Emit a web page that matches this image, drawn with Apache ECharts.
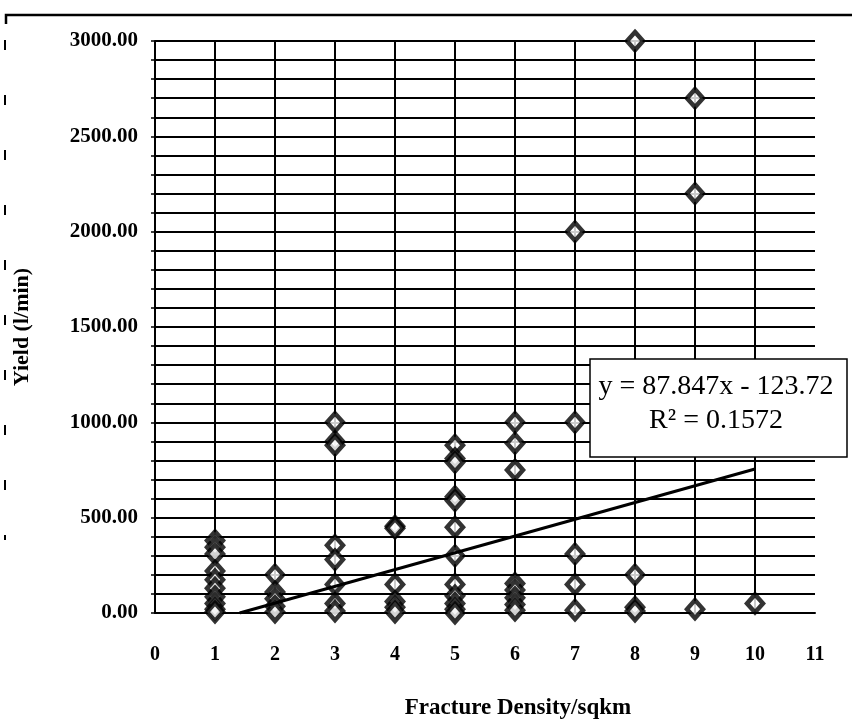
<!DOCTYPE html>
<html>
<head>
<meta charset="utf-8">
<script src="https://cdn.jsdelivr.net/npm/echarts@6/dist/echarts.min.js"></script>
<style>
  html, body { margin: 0; padding: 0; background: #fff; }
  #chart { width: 852px; height: 727px; }
</style>
</head>
<body>
<div id="chart"></div>
<script>
// ---- Data ----
const fractureDensity = [
  1,1,1,1,1,1,1,1,1,1,
  2,2,2,2,2,
  3,3,3,3,3,3,3,3,
  4,4,4,4,4,4,
  5,5,5,5,5,5,5,5,5,5,5,5,
  6,6,6,6,6,6,6,6,
  7,7,7,7,7,
  8,8,8,8,
  9,9,9,
  10
];
const yieldLpm = [
  380,345,310,220,175,130,85,50,20,5,
  200,110,75,35,5,
  1000,900,880,355,280,150,50,10,
  455,445,150,60,30,5,
  880,810,790,610,590,450,300,150,90,50,20,0,
  1000,890,750,155,120,80,45,15,
  2000,1000,310,150,15,
  3000,200,30,10,
  2700,2200,20,
  50
];
// Trendline endpoints (as drawn in the picture)
const trendX = [1.41, 10];
const trendY = [0, 755];
const equationText = 'y = 87.847x - 123.72';
const r2Text = 'R² = 0.1572';
const xTicks = [0,1,2,3,4,5,6,7,8,9,10,11];
const yLabelStep = 500;

const points = fractureDensity.map((x, i) => [x, yieldLpm[i]]);
const trend = trendX.map((x, i) => [x, trendY[i]]);

const serif = '"Liberation Serif", "DejaVu Serif", serif';
const chart = echarts.init(document.getElementById('chart'));

chart.setOption({
  animation: false,
  backgroundColor: '#fff',
  grid: { left: 155, right: 37, top: 41, bottom: 114, containLabel: false, outerBoundsMode: 'none' },
  xAxis: {
    type: 'value',
    min: xTicks[0],
    max: xTicks[xTicks.length - 1],
    interval: 1,
    axisLine: { show: true, lineStyle: { color: '#000', width: 2 } },
    axisTick: { show: false },
    axisLabel: { color: '#000', fontFamily: serif, fontWeight: 'bold', fontSize: 20, margin: 32 },
    splitLine: { show: true, showMinLine: false, showMaxLine: false, lineStyle: { color: '#000', width: 2 } },
    name: 'Fracture Density/sqkm',
    nameLocation: 'middle',
    nameGap: 84,
    nameTextStyle: { color: '#000', fontFamily: serif, fontWeight: 'bold', fontSize: 23, padding: [0, 0, 0, 66] }
  },
  yAxis: {
    type: 'value',
    min: 0,
    max: 3000,
    interval: 100,
    axisLine: { show: true, lineStyle: { color: '#000', width: 2 } },
    axisTick: { show: true, length: 4, lineStyle: { color: '#000', width: 1.5 } },
    axisLabel: {
      color: '#000', fontFamily: serif, fontWeight: 'bold', fontSize: 21, margin: 17,
      formatter: v => (v % yLabelStep === 0 ? v.toFixed(2) : '')
    },
    splitLine: { show: true, lineStyle: { color: '#000', width: 2 } },
    name: 'Yield (l/min)',
    nameLocation: 'middle',
    nameGap: 122,
    nameTextStyle: { color: '#000', fontFamily: serif, fontWeight: 'bold', fontSize: 22 }
  },
  series: [
    {
      type: 'scatter',
      data: points,
      symbol: 'diamond',
      symbolSize: [16, 18],
      itemStyle: { color: '#fff', borderColor: '#000', borderWidth: 4.5 },
      z: 3
    },
    {
      type: 'line',
      data: trend,
      showSymbol: false,
      symbol: 'none',
      lineStyle: { color: '#000', width: 3 },
      z: 4
    }
  ],
  graphic: [
    {
      type: 'polyline',
      shape: { points: [[6, 24], [6, 15], [852, 15]] },
      style: { stroke: '#000', lineWidth: 2.5, fill: null },
      z: 10
    },
    {
      type: 'line',
      shape: { x1: 5, y1: 40, x2: 5, y2: 540 },
      style: { stroke: '#000', lineWidth: 2, lineDash: [10, 45] },
      z: 10
    },
    {
      type: 'rect',
      shape: { x: 590, y: 359, width: 257, height: 98 },
      style: { fill: '#fff', stroke: '#000', lineWidth: 1.5 },
      z: 20
    },
    {
      type: 'text',
      x: 716, y: 387,
      style: { text: equationText, fill: '#000', font: '28px ' + serif, align: 'center', verticalAlign: 'middle' },
      z: 21
    },
    {
      type: 'text',
      x: 716, y: 421,
      style: { text: r2Text, fill: '#000', font: '28px ' + serif, align: 'center', verticalAlign: 'middle' },
      z: 21
    }
  ]
});
</script>
</body>
</html>
